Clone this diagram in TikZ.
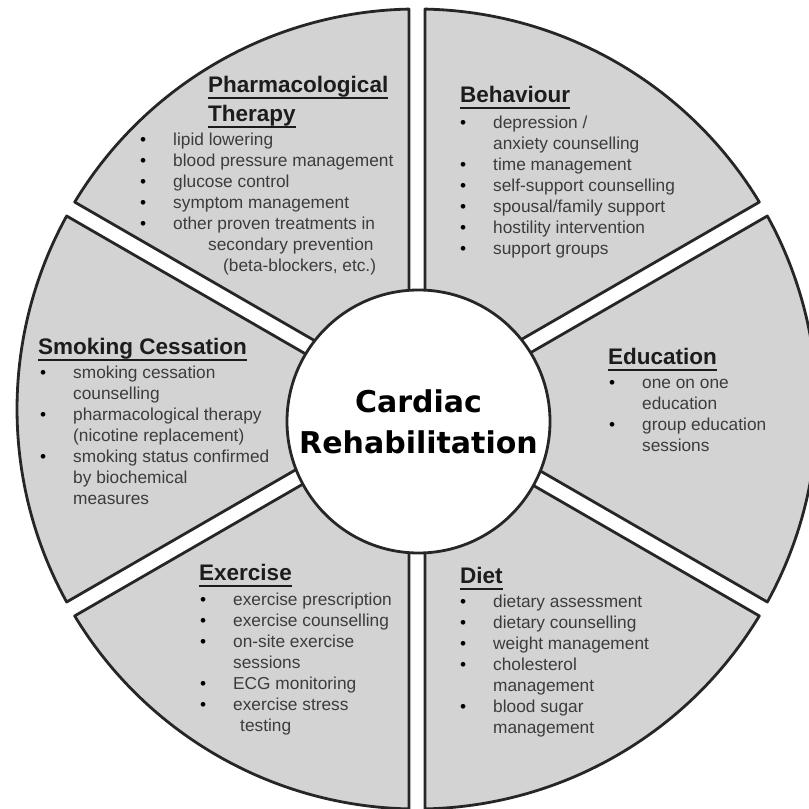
\documentclass[tikz,border=0pt]{standalone}
\usepackage{fontspec}
\setmainfont{Liberation Sans}
\newfontfamily\hubfont{DejaVu Sans}
\usepackage{tikz}
\usetikzlibrary{positioning}
\definecolor{sectorgray}{RGB}{211,211,211}
\definecolor{edgegray}{RGB}{38,38,38}
\definecolor{itemgray}{RGB}{60,60,60}
\definecolor{headgray}{RGB}{28,28,28}
\newcommand{\ulhead}[1]{\setbox0=\hbox{#1}\rlap{\rule[-6pt]{\wd0}{2pt}}\box0}
\newcommand{\dotitem}{\makebox[33pt][l]{\color{black}\textbullet}}

\begin{document}
\begin{tikzpicture}[x=1pt, y=1pt,
    sector/.style={draw=edgegray, line width=2.8pt, fill=sectorgray, line join=round},
    hub/.style={circle, draw=edgegray, line width=2.8pt, fill=white, minimum size=263pt, inner sep=0pt, align=center,
        font=\hubfont\bfseries\fontsize{30}{41}\selectfont, text=black},
    head/.style={anchor=base west, inner sep=0pt, text=headgray, font=\bfseries\fontsize{22.5}{29}\selectfont},
    items/.style={anchor=base west, inner sep=0pt, text=itemgray, font=\fontsize{17.3}{21}\selectfont}]
    \clip (0,0) rectangle (809,809);

    % six sectors with white gaps between them
    \begin{scope}[shift={(417,400)}]
        \foreach \a in {-90,-30,...,210} {
            \draw[sector] (\a+30:16) -- (\a+1.15:400) arc[start angle=\a+1.15, end angle=\a+58.85, radius=400] -- cycle;
        }
    \end{scope}

    \node[hub] (hub) at (418.5,387.5) {Cardiac\\Rehabilitation};

    % Pharmacological Therapy
    \node[head] (pharmaHead) at (208,716) {\begin{tabular}[t]{@{}l@{}}\ulhead{Pharmacological}\\\ulhead{Therapy}\end{tabular}};
    \node[items] (pharmaList) at (140,663) {\begin{tabular}[t]{@{}l@{}l@{}}
        \dotitem & lipid lowering\\
        \dotitem & blood pressure management\\
        \dotitem & glucose control\\
        \dotitem & symptom management\\
        \dotitem & other proven treatments in\\
        & \hspace*{35pt}secondary prevention\\
        & \hspace*{50pt}(beta-blockers, etc.)
    \end{tabular}};

    % Behaviour
    \node[head] (behavHead) at (460,706) {\ulhead{Behaviour}};
    \node[items] (behavList) at (460,680) {\begin{tabular}[t]{@{}l@{}l@{}}
        \dotitem & depression /\\
        & anxiety counselling\\
        \dotitem & time management\\
        \dotitem & self-support counselling\\
        \dotitem & spousal/family support\\
        \dotitem & hostility intervention\\
        \dotitem & support groups
    \end{tabular}};

    % Education
    \node[head] (eduHead) at (608,444) {\ulhead{Education}};
    \node[items] (eduList) at (609,420) {\begin{tabular}[t]{@{}l@{}l@{}}
        \dotitem & one on one\\
        & education\\
        \dotitem & group education\\
        & sessions
    \end{tabular}};

    % Diet
    \node[head] (dietHead) at (460,225) {\ulhead{Diet}};
    \node[items] (dietList) at (460,201) {\begin{tabular}[t]{@{}l@{}l@{}}
        \dotitem & dietary assessment\\
        \dotitem & dietary counselling\\
        \dotitem & weight management\\
        \dotitem & cholesterol\\
        & management\\
        \dotitem & blood sugar\\
        & management
    \end{tabular}};

    % Exercise
    \node[head] (exerHead) at (199,228) {\ulhead{Exercise}};
    \node[items] (exerList) at (200,203) {\begin{tabular}[t]{@{}l@{}l@{}}
        \dotitem & exercise prescription\\
        \dotitem & exercise counselling\\
        \dotitem & on-site exercise\\
        & sessions\\
        \dotitem & ECG monitoring\\
        \dotitem & exercise stress\\
        & \hspace*{7pt}testing
    \end{tabular}};

    % Smoking Cessation
    \node[head] (smokeHead) at (38,454) {\ulhead{Smoking Cessation}};
    \node[items] (smokeList) at (40,430) {\begin{tabular}[t]{@{}l@{}l@{}}
        \dotitem & smoking cessation\\
        & counselling\\
        \dotitem & pharmacological therapy\\
        & (nicotine replacement)\\
        \dotitem & smoking status confirmed\\
        & by biochemical\\
        & measures
    \end{tabular}};
\end{tikzpicture}
\end{document}
